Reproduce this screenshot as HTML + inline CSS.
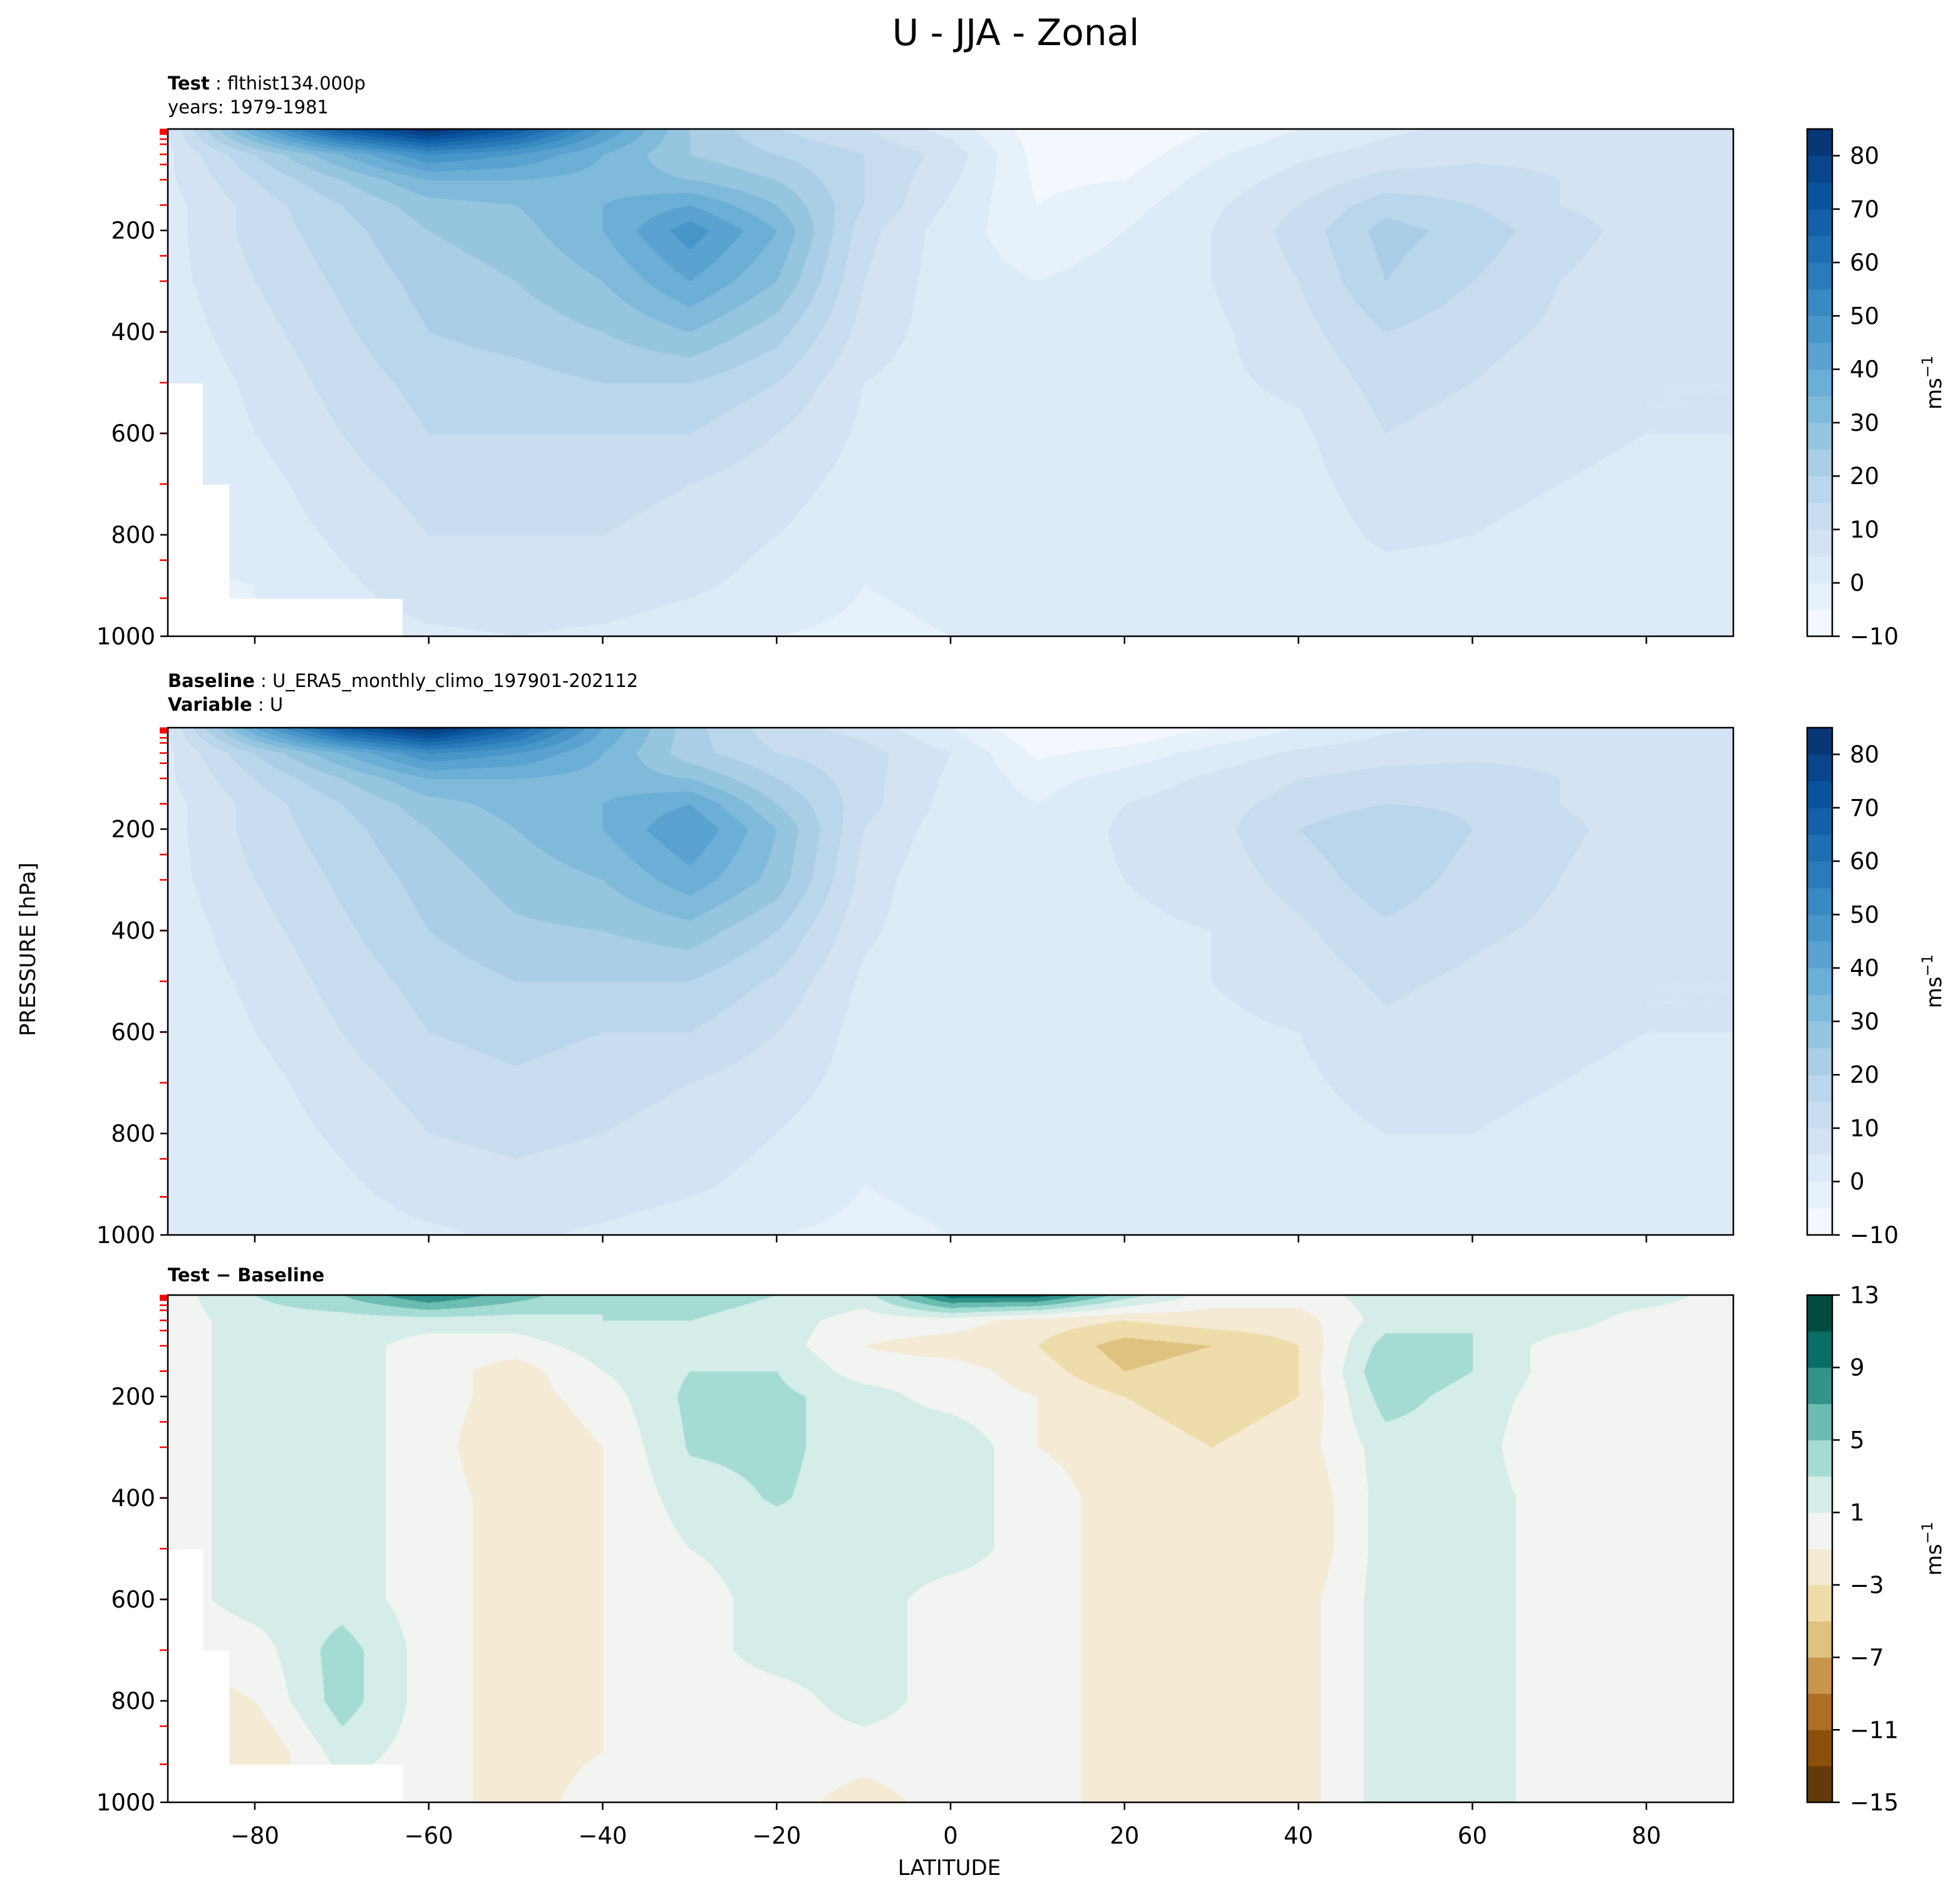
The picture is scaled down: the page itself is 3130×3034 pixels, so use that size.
<!DOCTYPE html>
<html><head><meta charset="utf-8"><style>
body{margin:0;background:#fff;}
#wrap{position:relative;width:3130px;height:3034px;overflow:hidden;font-family:"DejaVu Sans","Liberation Sans",sans-serif;}
canvas{position:absolute;}
svg{position:absolute;left:0;top:0;}
</style></head><body>
<div id="wrap">
<canvas id="c1"></canvas>
<canvas id="c2"></canvas>
<canvas id="c3"></canvas>
<svg id="svg" width="3130" height="3034" xmlns="http://www.w3.org/2000/svg"></svg>
</div>
<script>
// ---- data ----
const lats = [-90,-80,-70,-60,-50,-40,-30,-20,-10,0,10,20,30,40,50,60,70,80,90];
const pressures = [0,50,100,150,200,300,400,500,600,700,800,900,1000];
const testU = [
 [5,4,4,3,3,3,2,1,1,0,0,-1,-1],
 [40,20,15,12,12,10,8,6,5,3,2,0,0],
 [70,35,25,20,18,16,14,12,10,8,6,4,2],
 [85,50,35,28,25,22,20,17,15,12,10,8,4],
 [70,45,35,30,28,25,22,18,15,12,10,8,5],
 [45,35,33,35,35,30,25,20,15,12,10,8,4],
 [25,25,30,40,48,40,30,20,15,10,8,6,2],
 [15,20,25,30,35,30,22,15,10,7,5,3,0],
 [10,15,15,15,12,10,8,5,4,3,2,0,-1],
 [3,8,6,4,2,2,2,2,2,2,2,1,0],
 [-8,-7,-6,-5,-3,0,1,2,2,3,4,5,3],
 [-10,-8,-5,-2,0,2,3,3,3,3,2,2,3],
 [-5,-1,2,4,5,5,4,4,3,3,2,2,2],
 [0,4,7,10,12,10,8,6,4,3,2,2,1],
 [4,7,12,18,22,20,15,12,10,8,6,3,2],
 [6,9,12,15,18,15,12,10,8,6,5,3,2],
 [7,9,10,10,12,10,9,7,6,5,4,3,2],
 [7,8,8,8,8,7,6,5,5,4,4,3,3],
 [6,6,6,6,6,5,5,5,5,5,5,4,4]
];
const baseU = [
 [5,4,4,3,3,3,2,2,1,1,0,0,0],
 [40,20,15,12,12,10,8,6,5,3,2,1,1],
 [70,35,25,20,18,16,14,12,10,8,6,4,2],
 [85,50,35,28,25,22,20,17,15,12,10,8,4],
 [65,45,35,32,30,27,24,20,17,14,11,9,6],
 [40,35,33,35,35,30,25,20,15,12,10,8,4],
 [22,22,30,40,45,38,28,20,15,10,8,6,2],
 [12,15,20,25,30,28,20,14,10,7,5,3,0],
 [8,12,12,12,10,8,6,4,3,3,2,0,-1],
 [0,5,4,3,2,0,1,2,2,2,2,1,0],
 [-10,-6,-2,0,1,2,2,2,2,3,4,5,3],
 [-10,-3,2,5,6,5,4,4,3,3,2,2,3],
 [-5,2,6,8,8,7,5,5,4,3,2,2,2],
 [0,6,10,12,15,12,9,7,5,4,3,2,1],
 [4,8,12,15,20,18,14,11,9,7,5,3,2],
 [6,9,12,14,15,13,11,9,7,6,5,3,2],
 [7,9,10,10,11,10,9,7,6,5,4,3,2],
 [7,8,8,8,8,7,6,5,5,4,4,3,3],
 [6,6,6,6,6,5,5,5,5,5,5,4,4]
];
const diffU = [
 [0,0,0,0,0,0,0,0,0,-1,-2,-2,0],
 [3,2,2,2,2,2,2,2,2,0,-1,-3,-2],
 [5,2,2,2,2,2,2,2,2,4,4,2,0],
 [9,2,0,0,0,0,0,0,0,0,0,0,0],
 [6,2,0,-2,-2,-3,-2,-2,-2,-2,-2,-2,-2],
 [3,3,2,1,0,-1,-1,-1,-1,-1,-1,-1,0],
 [4,3,3,3,3.5,3.2,2,1,0,0,0,0,0],
 [3,2,2,3,3.5,3.5,3.2,2,2,2,0,0,0],
 [2,0,-1,0,2,2,2,2,2,2,2,0,-2],
 [10,0,-2,0,0,3,2,2,0,0,0,0,0],
 [10,-2,-3,-2,-1,-1,0,0,0,0,0,0,0],
 [4,-3,-6,-5,-3,-2,-2,-2,-2,-2,-2,-2,-2],
 [0,-2,-5,-4,-4,-3,-2,-2,-2,-2,-2,-2,-2],
 [0,-2,-3,-3,-3,-2,-3,-3,-2,-2,-2,-2,-2],
 [2,2,4,5,4,2,2,2,2,2,2,2,2],
 [2,3,3,3,2,2,2,2,2,2,2,2,2],
 [2,2,0,0,0,-1,0,0,0,0,0,0,0],
 [2,0,0,0,0,0,0,0,0,0,0,0,0],
 [0,0,0,0,0,0,0,0,0,0,0,0,0]
];
// below-ground mask (test + diff): latitude edges and surface pressure
const maskLatEdges = [-86,-83,-63];
const maskSurfP = [500,700,925];
const xTicks = [-80,-60,-40,-20,0,20,40,60,80];
const yTicks = [200,400,600,800,1000];
const redTicks = [1,2,3,5,7,10,20,30,50,70,100,150,250,300,400,500,600,700,850,925];
const blueLevels = [-10,-5,0,5,10,15,20,25,30,35,40,45,50,55,60,65,70,75,80,85];
const blueTickLabels = [-10,0,10,20,30,40,50,60,70,80];
const diffLevels = [-15,-13,-11,-9,-7,-5,-3,-1,1,3,5,7,9,11,13];
const diffTickLabels = [-15,-11,-7,-3,1,5,9,13];
const diffColors = ['#633a09','#8b500b','#ad6e25','#c8964a','#dfc27f','#eedcaa','#f5ead4','#f2f4f2','#d4ede8','#a4dcd3','#6bbcb1','#33938b','#0a6e66','#004d40'];

// ---- layout ----
const PX0=268, PX1=2768;
const panels=[{top:206,bot:1016},{top:1162,bot:1972},{top:2068,bot:2878}];
const CBX0=2886, CBX1=2926;
const xS = lat => PX0 + (lat+90)/180*(PX1-PX0);

function hex(h){return [parseInt(h.slice(1,3),16),parseInt(h.slice(3,5),16),parseInt(h.slice(5,7),16)];}
const BLUES=['#f7fbff','#deebf7','#c6dbef','#9ecae1','#6baed6','#4292c6','#2171b5','#08519c','#08306b'].map(hex);
function cmap(stops,t){t=Math.max(0,Math.min(1,t));const n=stops.length-1;const f=t*n;const i=Math.min(n-1,Math.floor(f));const r=f-i;
 return stops[i].map((v,k)=>Math.round(v+(stops[i+1][k]-v)*r));}
const blueBand = b => cmap(BLUES,(b+0.5)/(blueLevels.length-1));
const diffBand = b => hex(diffColors[b]);
function bandIndex(levels,v){const nb=levels.length-1;let b=0;while(b<nb-1 && v>=levels[b+1]) b++;return b;}
function sample(grid,lat,p){
 let i=Math.floor((lat+90)/10);if(i>17)i=17;if(i<0)i=0;const fx=(lat-lats[i])/10;
 let j=0;while(j<pressures.length-2 && p>pressures[j+1]) j++;
 const fy=(p-pressures[j])/(pressures[j+1]-pressures[j]);
 const a=grid[i][j],b=grid[i+1][j],c=grid[i][j+1],d=grid[i+1][j+1];
 return a*(1-fx)*(1-fy)+b*fx*(1-fy)+c*(1-fx)*fy+d*fx*fy;
}
function masked(lat,p){for(let k=0;k<maskLatEdges.length;k++){if(lat<maskLatEdges[k]) return p>maskSurfP[k];}return false;}
function drawField(id,panel,grid,levels,bandFn,useMask){
 const cv=document.getElementById(id);const W=PX1-PX0,H=panel.bot-panel.top;
 cv.width=W;cv.height=H;cv.style.left=PX0+'px';cv.style.top=panel.top+'px';
 const ctx=cv.getContext('2d');const img=ctx.createImageData(W,H);
 for(let y=0;y<H;y++){const p=y/H*1000;
  for(let x=0;x<W;x++){const lat=-90+x/W*180;
   let col;
   if(useMask && masked(lat,p)) col=[255,255,255];
   else {const v=sample(grid,lat,p);
     if(v<levels[0]) col=[255,255,255]; else col=bandFn(bandIndex(levels,v));}
   const k=(y*W+x)*4;img.data[k]=col[0];img.data[k+1]=col[1];img.data[k+2]=col[2];img.data[k+3]=255;}}
 ctx.putImageData(img,0,0);
}
drawField('c1',panels[0],testU,blueLevels,blueBand,true);
drawField('c2',panels[1],baseU,blueLevels,blueBand,false);
drawField('c3',panels[2],diffU,diffLevels,diffBand,true);

// ---- SVG overlay ----
const NS='http://www.w3.org/2000/svg';const svg=document.getElementById('svg');
function el(tag,attrs,parent,text){const e=document.createElementNS(NS,tag);for(const k in attrs)e.setAttribute(k,attrs[k]);if(text!==undefined)e.textContent=text;(parent||svg).appendChild(e);return e;}
function txt(x,y,s,size,anchor,weight,name){const t=el('text',{x:x,y:y,'font-size':size,'text-anchor':anchor||'start','font-weight':weight||'normal',fill:'#000'},svg,s);
 
 return t;}

txt(1622,72,'U - JJA - Zonal',58,'middle','normal','figure-title');

panels.forEach((pn,pi)=>{
 const yS=p=>pn.top+p/1000*(pn.bot-pn.top);
 redTicks.forEach(p=>{const l=el('line',{x1:PX0-13,x2:PX0,y1:yS(p),y2:yS(p),stroke:'#ff0000','stroke-width':2.5});
  
  });
 const fr=el('rect',{x:PX0,y:pn.top,width:PX1-PX0,height:pn.bot-pn.top,fill:'none',stroke:'#000','stroke-width':2.5});
 
 
 yTicks.forEach(p=>{const l=el('line',{x1:PX0-12,x2:PX0,y1:yS(p),y2:yS(p),stroke:'#000','stroke-width':2.5});
  
  
  txt(PX0-20,yS(p)+13,String(p),37,'end','normal','y-tick-label');});
 xTicks.forEach(v=>{const l=el('line',{x1:xS(v),x2:xS(v),y1:pn.bot,y2:pn.bot+12,stroke:'#000','stroke-width':2.5});
  
  
  if(pi===2) txt(xS(v),pn.bot+66,(v<0?'\u2212':'')+Math.abs(v),37,'middle','normal','x-tick-label');});
 const isDiff=pi===2;const lv=isDiff?diffLevels:blueLevels;const nb=lv.length-1;
 const cbY=v=>pn.bot-(v-lv[0])/(lv[nb]-lv[0])*(pn.bot-pn.top);
 for(let b=0;b<nb;b++){const c=isDiff?diffBand(b):blueBand(b);
  const r=el('rect',{x:CBX0,y:cbY(lv[b+1]),width:CBX1-CBX0,height:cbY(lv[b])-cbY(lv[b+1])+0.5,fill:'rgb('+c.join(',')+')'});
  
  }
 const cf=el('rect',{x:CBX0,y:pn.top,width:CBX1-CBX0,height:pn.bot-pn.top,fill:'none',stroke:'#000','stroke-width':2.5});
 
 
 (isDiff?diffTickLabels:blueTickLabels).forEach(v=>{const y=cbY(v);
  const l=el('line',{x1:CBX1,x2:CBX1+12,y1:y,y2:y,stroke:'#000','stroke-width':2.5});
  
  
  txt(CBX1+28,y+13,(v<0?'\u2212':'')+Math.abs(v),37,'start','normal','colorbar-tick-label');});
 const ul=el('text',{x:0,y:0,'font-size':34,'text-anchor':'middle',transform:'translate(3100,'+((pn.top+pn.bot)/2)+') rotate(-90)'},svg);
 
 
 ul.appendChild(document.createTextNode('ms'));
 el('tspan',{dy:-14,'font-size':24},ul,'\u22121');
});

function sub(x,y,bold,rest,name){const t=el('text',{x:x,y:y,'font-size':29},svg);
 
 
 el('tspan',{'font-weight':'bold'},t,bold);el('tspan',{},t,rest);}
sub(268,143,'Test',' : flthist134.000p','test-subtitle');
txt(268,181,'years: 1979-1981',29,'start','normal','test-years');
sub(268,1097,'Baseline',' : U_ERA5_monthly_climo_197901-202112','baseline-subtitle');
sub(268,1135,'Variable',' : U','variable-subtitle');
sub(268,2046,'Test \u2212 Baseline','','difference-subtitle');

txt(1516,2994,'LATITUDE',34,'middle','normal','x-axis-title');
const yt=el('text',{x:0,y:0,'font-size':34,'text-anchor':'middle',transform:'translate(56,1516) rotate(-90)'},svg,'PRESSURE [hPa]');


</script>
</body></html>
